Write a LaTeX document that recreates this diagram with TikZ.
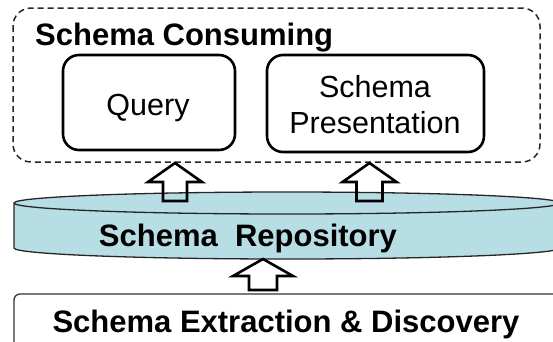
\documentclass[tikz,border=0pt]{standalone}
\usepackage{fontspec}
\setmainfont{Liberation Sans}
\definecolor{repofill}{RGB}{183,222,228}
\tikzset{
  roundbox/.style={draw=black, line width=2.6pt, rounded corners=16pt, fill=white, inner sep=0pt},
  consbox/.style={draw=black!85, line width=1.5pt, dash pattern=on 6pt off 4pt, rounded corners=18pt},
  blockarr/.style={draw=black, line width=2.6pt, line join=miter},
  boldtxt/.style={font=\fontsize{31}{37}\selectfont\bfseries, inner sep=0pt},
  plaintxt/.style={font=\fontsize{30.5}{36}\selectfont, inner sep=0pt},
  cylline/.style={draw=black!85, line width=1.3pt},
  basebox/.style={draw=black!80, line width=1.3pt, rounded corners=6pt},
}
\newcommand\blkup[6]{%
  \draw[blockarr] (#1,#2) -- (#1+#5,#3) -- (#1+#6,#3) -- (#1+#6,#4) -- (#1-#6,#4) -- (#1-#6,#3) -- (#1-#5,#3) -- cycle;}
\begin{document}
\begin{tikzpicture}[x=1pt,y=-1pt]
\useasboundingbox (0,0) rectangle (553,341);
\clip (0,0) rectangle (553,341);
% consuming layer
\draw[consbox] (13,8) rectangle (540,162);
\node[boldtxt, anchor=base west] (constitle) at (35,45) {Schema Consuming};
\node[roundbox, minimum width=172pt, minimum height=95pt] (query) at (149,102.5) {};
\node[plaintxt, anchor=base] (querytxt) at (148,115) {Query};
\node[roundbox, minimum width=217pt, minimum height=97pt] (pres) at (375.5,103.5) {};
\node[plaintxt, anchor=base] (prestxt1) at (375,97) {Schema};
\node[plaintxt, anchor=base] (prestxt2) at (375,133) {Presentation};
% repository cylinder
\path[fill=repofill, cylline] (14,203) -- (14,248)
  arc[start angle=180, end angle=360, x radius=273pt, y radius=11pt]
  -- (560,203)
  arc[start angle=0, end angle=180, x radius=273pt, y radius=11pt] -- cycle;
\draw[cylline] (14,203) arc[start angle=180, end angle=360, x radius=273pt, y radius=11pt];
\node[boldtxt, anchor=base] (repo) at (248,246) {Schema\ \ Repository};
% extraction layer
\draw[basebox] (14,294) rectangle (620,420);
\node[boldtxt, anchor=base] (extract) at (286,332) {Schema Extraction \& Discovery};
% block arrows
\blkup{175}{163}{182}{201}{27}{12}
\blkup{369.5}{163}{182}{201}{27}{13}
\blkup{263}{259}{276}{290}{30}{14}
\end{tikzpicture}
\end{document}
